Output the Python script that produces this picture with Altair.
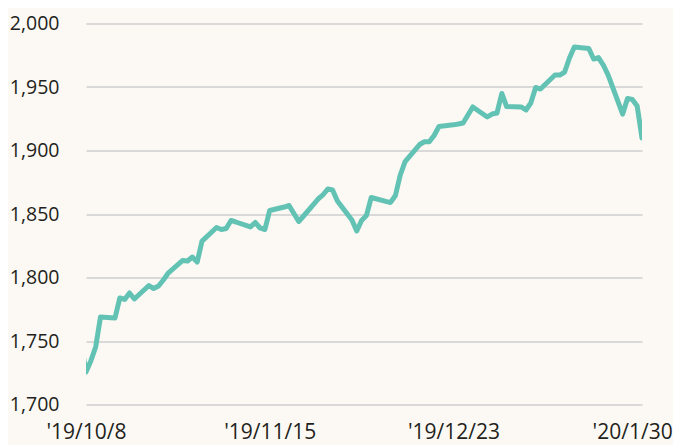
import altair as alt
import pandas as pd

dates = [
    "2019-10-07", "2019-10-08", "2019-10-09", "2019-10-10", "2019-10-11",
    "2019-10-14", "2019-10-15", "2019-10-16", "2019-10-17", "2019-10-18",
    "2019-10-21", "2019-10-22", "2019-10-23", "2019-10-24", "2019-10-25",
    "2019-10-28", "2019-10-29", "2019-10-30", "2019-10-31", "2019-11-01",
    "2019-11-04", "2019-11-05", "2019-11-06", "2019-11-07", "2019-11-08",
    "2019-11-11", "2019-11-12", "2019-11-13", "2019-11-14", "2019-11-15",
    "2019-11-18", "2019-11-19", "2019-11-20", "2019-11-21", "2019-11-22",
    "2019-11-25", "2019-11-26", "2019-11-27", "2019-11-28", "2019-11-29",
    "2019-12-02", "2019-12-03", "2019-12-04", "2019-12-05", "2019-12-06",
    "2019-12-09", "2019-12-10", "2019-12-11", "2019-12-12", "2019-12-13",
    "2019-12-16", "2019-12-17", "2019-12-18", "2019-12-19", "2019-12-20",
    "2019-12-23", "2019-12-24", "2019-12-25", "2019-12-26", "2019-12-27",
    "2019-12-30", "2019-12-31", "2020-01-01", "2020-01-02", "2020-01-03",
    "2020-01-06", "2020-01-07", "2020-01-08", "2020-01-09", "2020-01-10",
    "2020-01-13", "2020-01-14", "2020-01-15", "2020-01-16", "2020-01-17",
    "2020-01-20", "2020-01-21", "2020-01-22", "2020-01-23", "2020-01-24",
    "2020-01-27", "2020-01-28", "2020-01-29", "2020-01-30", "2020-01-31",
]

values = [
    1748.0, 1725.6, 1734.3, 1745.3, 1768.9,
    1768.1, 1783.9, 1782.7, 1787.8, 1783.1,
    1793.7, 1791.3, 1793.3, 1798.0, 1803.5,
    1813.4, 1813.0, 1816.1, 1812.2, 1828.7,
    1839.4, 1837.8, 1838.6, 1844.9, 1843.7,
    1839.8, 1843.3, 1839.0, 1837.8, 1852.8,
    1855.5, 1856.7, 1850.4, 1844.1, 1848.4,
    1861.8, 1865.0, 1869.7, 1868.9, 1860.2,
    1845.3, 1836.6, 1844.9, 1848.8, 1863.0,
    1859.9, 1859.1, 1864.6, 1880.7, 1891.3,
    1904.7, 1906.9, 1906.9, 1911.8, 1918.9,
    1920.2, 1920.9, 1921.7, 1928.0, 1934.3,
    1926.4, 1928.7, 1929.5, 1944.9, 1934.6,
    1934.3, 1931.9, 1937.4, 1949.6, 1948.4,
    1959.4, 1959.4, 1961.8, 1972.8, 1981.5,
    1980.3, 1972.0, 1973.2, 1967.3, 1959.4,
    1928.7, 1941.0, 1940.2, 1935.0, 1909.8,
]

x_domain = [(2019, 10, 8), (2020, 1, 31)]
x_ticks = [(2019, 10, 8), (2019, 11, 15), (2019, 12, 23), (2020, 1, 30)]
y_ticks = [1700, 1750, 1800, 1850, 1900, 1950, 2000]

df = pd.DataFrame({"date": dates, "value": values})


def dt(t):
    return alt.DateTime(year=t[0], month=t[1], date=t[2], utc=True)


last_tick_test = "datum.value > 1580000000000"

line = alt.Chart(df).mark_line(
    color="#62c2b4", strokeWidth=5, strokeJoin="round", strokeCap="round", clip=True
).encode(
    x=alt.X(
        "date:T",
        scale=alt.Scale(type="utc", domain=[dt(t) for t in x_domain]),
        axis=alt.Axis(
            values=[dt(t) for t in x_ticks],
            labelExpr='utcFormat(datum.value, "\'%y/%-m/%-d")',
            grid=False,
            ticks=False,
            domain=False,
            labelFlush=False,
            labelOverlap=False,
            labelBound=False,
            labelAlign={"condition": {"test": last_tick_test, "value": "right"}, "value": "center"},
            labelOffset={"condition": {"test": last_tick_test, "value": 35}, "value": 0},
            labelPadding=17,
            labelFontSize=21,
            labelFont="Open Sans",
            labelColor="#231f20",
            title=None,
        ),
    ),
    y=alt.Y(
        "value:Q",
        scale=alt.Scale(domain=[1700, 2000], zero=False, nice=False),
        axis=alt.Axis(
            values=y_ticks,
            format=",d",
            grid=True,
            gridColor="#d9d9d9",
            gridWidth=1.8,
            ticks=False,
            domain=False,
            labelPadding=27,
            labelFontSize=19.5,
            labelFont="Open Sans",
            labelColor="#231f20",
            title=None,
        ),
    ),
)

chart = line.properties(
    width=556,
    height=381,
    autosize=alt.AutoSizeParams(type="none"),
    padding={"left": 78, "top": 15.5, "right": 31, "bottom": 40},
    background="#fcf9f4",
).configure_view(stroke=None)

chart.save("out.html", embed_options={"renderer": "svg", "actions": False})
